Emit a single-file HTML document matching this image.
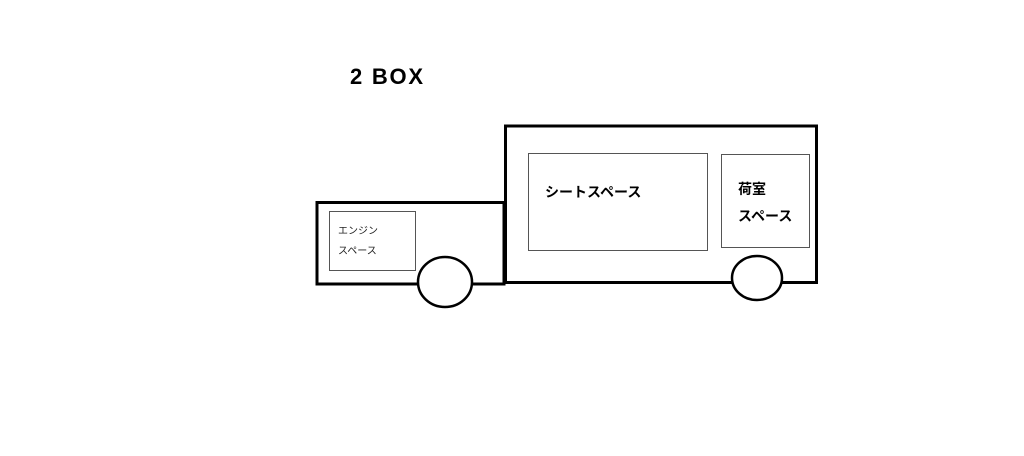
<!DOCTYPE html>
<html><head><meta charset="utf-8"><style>
html,body{margin:0;padding:0;background:#fff;}
svg{display:block;}
text{font-family:"Liberation Sans","Noto Sans CJK JP",sans-serif;}
</style></head><body>
<svg width="1024" height="456" viewBox="0 0 1024 456" xmlns="http://www.w3.org/2000/svg">
<rect width="1024" height="456" fill="#fff"/>
<text x="350" y="84" font-size="22" font-weight="bold" fill="#000" textLength="73">2 BOX</text>
<rect x="317" y="202.5" width="187" height="81.5" fill="#fff" stroke="#000" stroke-width="3"/>
<rect x="505.5" y="126" width="311" height="156.5" fill="#fff" stroke="#000" stroke-width="3"/>
<rect x="329.5" y="211.5" width="86" height="59" fill="none" stroke="#555" stroke-width="1"/>
<rect x="528.5" y="153.5" width="179" height="97" fill="none" stroke="#555" stroke-width="1"/>
<rect x="721.5" y="154.5" width="88" height="93" fill="none" stroke="#555" stroke-width="1"/>
<ellipse cx="445" cy="282" rx="27" ry="25" fill="#fff" stroke="#000" stroke-width="2.5"/>
<ellipse cx="757" cy="278" rx="25" ry="22" fill="#fff" stroke="#000" stroke-width="2.5"/>
<text x="338" y="234" font-size="10" fill="#222">エンジン</text>
<text x="338" y="254" font-size="10" fill="#222">スペース</text>
<text x="545" y="197" font-size="14" font-weight="bold" fill="#000">シートスペース</text>
<text x="738" y="194" font-size="14" font-weight="bold" fill="#000">荷室</text>
<text x="738" y="221" font-size="14" font-weight="bold" fill="#000">スペース</text>
</svg>
</body></html>
